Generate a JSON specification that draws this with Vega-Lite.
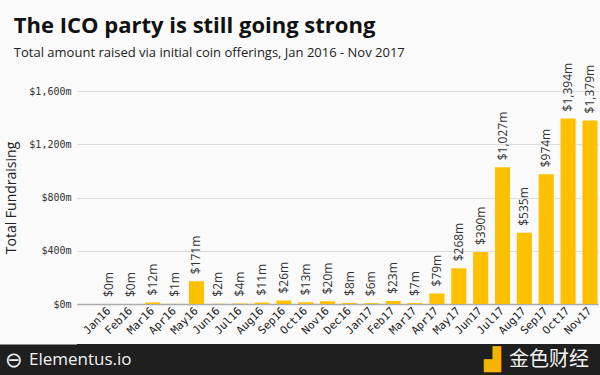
{
  "$schema": "https://vega.github.io/schema/vega-lite/v6.json",
  "background": "#fafafa",
  "padding": {"top": 14, "left": 4, "right": 0, "bottom": 0},
  "title": {
    "text": "The ICO party is still going strong",
    "subtitle": "Total amount raised via initial coin offerings, Jan 2016 - Nov 2017",
    "anchor": "start",
    "frame": "bounds",
    "dx": 9,
    "font": "Open Sans",
    "fontSize": 22,
    "fontWeight": "bold",
    "color": "#111111",
    "subtitleFont": "Open Sans",
    "subtitleFontSize": 13,
    "subtitleColor": "#222222",
    "subtitlePadding": 9,
    "offset": 2
  },
  "spacing": 8,
  "vconcat": [
    {
      "width": 521,
      "height": 213,
      "data": {
        "values": [
          {"month": "Jan16", "value": 0.3, "label": "$0m"},
          {"month": "Feb16", "value": 0, "label": "$0m"},
          {"month": "Mar16", "value": 12, "label": "$12m"},
          {"month": "Apr16", "value": 1, "label": "$1m"},
          {"month": "May16", "value": 171, "label": "$171m"},
          {"month": "Jun16", "value": 2, "label": "$2m"},
          {"month": "Jul16", "value": 4, "label": "$4m"},
          {"month": "Aug16", "value": 11, "label": "$11m"},
          {"month": "Sep16", "value": 26, "label": "$26m"},
          {"month": "Oct16", "value": 13, "label": "$13m"},
          {"month": "Nov16", "value": 20, "label": "$20m"},
          {"month": "Dec16", "value": 8, "label": "$8m"},
          {"month": "Jan17", "value": 6, "label": "$6m"},
          {"month": "Feb17", "value": 23, "label": "$23m"},
          {"month": "Mar17", "value": 7, "label": "$7m"},
          {"month": "Apr17", "value": 79, "label": "$79m"},
          {"month": "May17", "value": 268, "label": "$268m"},
          {"month": "Jun17", "value": 390, "label": "$390m"},
          {"month": "Jul17", "value": 1027, "label": "$1,027m"},
          {"month": "Aug17", "value": 535, "label": "$535m"},
          {"month": "Sep17", "value": 974, "label": "$974m"},
          {"month": "Oct17", "value": 1394, "label": "$1,394m"},
          {"month": "Nov17", "value": 1379, "label": "$1,379m"}
        ]
      },
      "encoding": {
        "x": {
          "field": "month",
          "type": "nominal",
          "sort": null,
          "scale": {"paddingInner": 0.31, "paddingOuter": 0.572, "align": 0.98},
          "axis": {
            "title": null,
            "labelFont": "DejaVu Sans Mono",
            "labelFontSize": 11,
            "labelColor": "#222222",
            "labelAngle": -45,
            "labelAlign": "right",
            "labelBaseline": "middle",
            "labelPadding": 5,
            "ticks": false,
            "domainColor": "#aaaaaa",
            "domainWidth": 1.5
          }
        },
        "y": {
          "field": "value",
          "type": "quantitative",
          "scale": {"domain": [0, 1600]},
          "axis": {
            "title": "Total Fundraising",
            "titleFont": "Open Sans",
            "titleFontSize": 14,
            "titleFontWeight": "normal",
            "titleColor": "#222222",
            "titlePadding": 10,
            "values": [0, 400, 800, 1200, 1600],
            "labelExpr": "'$' + format(datum.value, ',') + 'm'",
            "labelFont": "DejaVu Sans Mono",
            "labelFontSize": 10,
            "labelColor": "#333333",
            "labelPadding": 6,
            "ticks": false,
            "domain": false,
            "gridColor": "#dddddd",
            "gridWidth": 1
          }
        }
      },
      "layer": [
        {"mark": {"type": "bar", "color": "#ffc000"}},
        {
          "mark": {
            "type": "text",
            "angle": -90,
            "align": "left",
            "baseline": "middle",
            "dx": 7,
            "font": "Open Sans",
            "fontSize": 12,
            "color": "#333333"
          },
          "encoding": {"text": {"field": "label"}}
        }
      ]
    },
    {
      "width": 524,
      "height": 31,
      "view": {"fill": "#1f1f1f", "stroke": null},
      "data": {
        "values": [
          {"side": "left", "brand": "Elementus.io", "logo": "⊖"},
          {"side": "right", "brand": "金色财经", "logo": "▟"}
        ]
      },
      "encoding": {
        "x": {
          "field": "side",
          "type": "nominal",
          "scale": {"domain": ["left", "right"], "type": "point", "padding": 0},
          "axis": null
        },
        "y": {
          "datum": "footer",
          "type": "nominal",
          "scale": {"type": "band", "paddingInner": 0, "paddingOuter": 0},
          "axis": {"orient": "left", "title": null, "labels": false, "ticks": false, "grid": false, "domain": true, "domainColor": "#1f1f1f", "domainWidth": 164}
        }
      },
      "layer": [
        {
          "transform": [{"filter": "datum.side == 'left'"}],
          "mark": {"type": "text", "align": "left", "baseline": "middle", "dx": -48, "font": "Open Sans", "fontSize": 17, "color": "#f2f2f2"},
          "encoding": {"text": {"field": "brand"}}
        },
        {
          "transform": [{"filter": "datum.side == 'left'"}],
          "mark": {"type": "text", "align": "left", "baseline": "middle", "dx": -72, "dy": 1, "font": "DejaVu Sans", "fontSize": 21, "color": "#f2f2f2"},
          "encoding": {"text": {"field": "logo"}}
        },
        {
          "transform": [{"filter": "datum.side == 'right'"}],
          "mark": {"type": "text", "align": "right", "baseline": "middle", "dx": -12, "font": "Noto Sans CJK SC", "fontSize": 20, "color": "#f2f2f2"},
          "encoding": {"text": {"field": "brand"}}
        },
        {
          "transform": [{"filter": "datum.side == 'right'"}],
          "mark": {"type": "text", "align": "right", "baseline": "middle", "dx": -100, "font": "DejaVu Sans", "fontSize": 22, "color": "#f5b400"},
          "encoding": {"text": {"field": "logo"}}
        }
      ]
    }
  ],
  "config": {"view": {"stroke": null}}
}
